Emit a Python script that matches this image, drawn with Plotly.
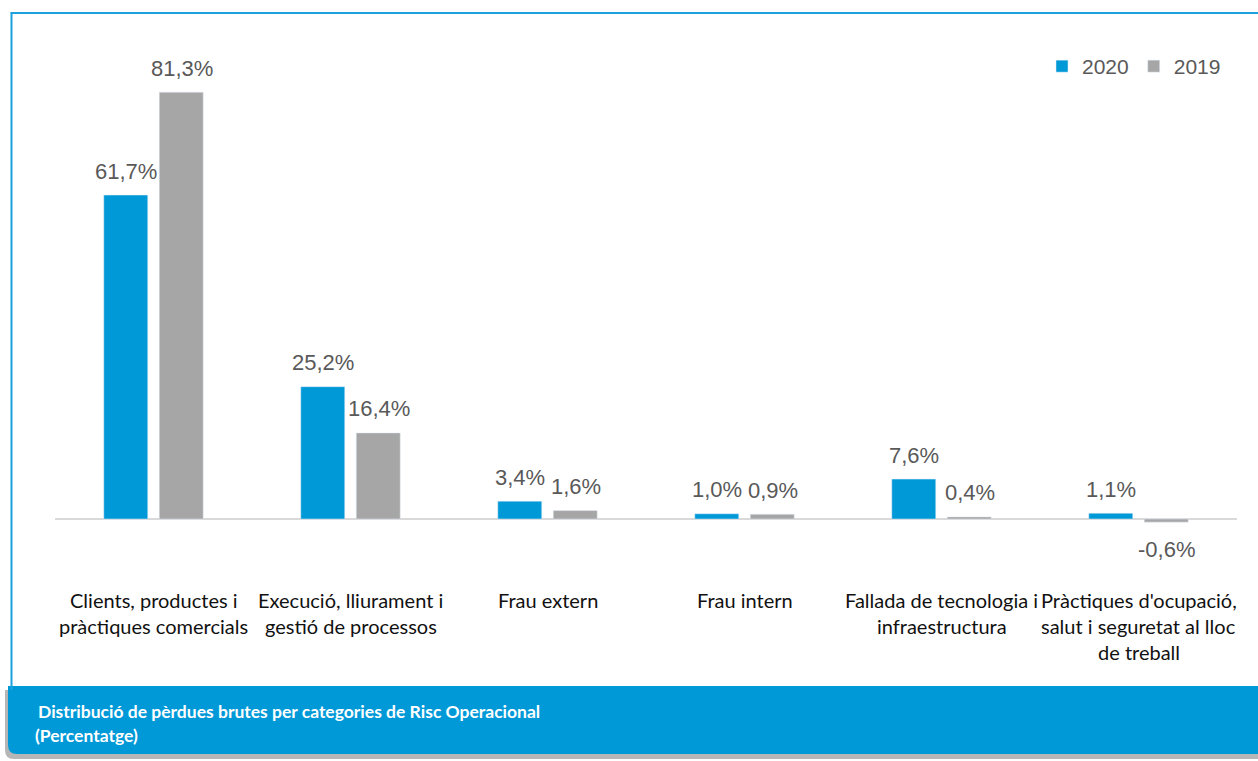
import plotly.graph_objects as go

categories = [
    "Clients, productes i|pràctiques comercials",
    "Execució, lliurament i|gestió de processos",
    "Frau extern",
    "Frau intern",
    "Fallada de tecnologia i|infraestructura",
    "Pràctiques d'ocupació,|salut i seguretat al lloc|de treball",
]
values_2020 = [61.7, 25.2, 3.4, 1.0, 7.6, 1.1]
values_2019 = [81.3, 16.4, 1.6, 0.9, 0.4, -0.6]
series_names = ["2020", "2019"]
title_lines = ["Distribució de pèrdues brutes per categories de Risc Operacional", "(Percentatge)"]

BLUE = "#0099D8"
GREY = "#A6A6A6"
TXT = "#595959"

W, H = 1258, 761
ML, MR, MT, MB = 55, 21, 57, 205
PW, PH = W - ML - MR, H - MT - MB


def px(x):
    return (x - ML) / PW


def py(y):
    return (H - MB - y) / PH


idx = list(range(len(categories)))

fig = go.Figure()
fig.add_trace(go.Bar(x=idx, y=values_2020, name=series_names[0], marker_color=BLUE, hoverinfo="y"))
fig.add_trace(go.Bar(x=idx, y=values_2019, name=series_names[1], marker_color=GREY, hoverinfo="y"))

annotations = []
for vals, shift in ((values_2020, -28), (values_2019, 28)):
    for i, v in zip(idx, vals):
        label = f"{v:.1f}".replace(".", ",") + "%"
        annotations.append(dict(
            x=i, y=v, xref="x", yref="y", xshift=shift,
            yshift=24 if v >= 0 else -27, yanchor="middle",
            text=label, showarrow=False,
            font=dict(family="Liberation Sans, Arial", size=22, color=TXT),
        ))

# category labels (one annotation per line for Excel-like spacing)
for i, cat in zip(idx, categories):
    for k, line in enumerate(cat.split("|")):
        annotations.append(dict(
            x=i, y=py(600 + 26 * k), xref="x", yref="paper", yanchor="middle",
            text=line, showarrow=False,
            font=dict(family="Lato", size=20, color="#111111"),
        ))

# banner title
for k, (line, x0) in enumerate(zip(title_lines, (36, 33))):
    annotations.append(dict(
        x=px(x0), y=py(711 + 24 * k), xref="paper", yref="paper",
        xanchor="left", yanchor="middle",
        text=f"<b>{line}</b>", showarrow=False,
        font=dict(family="Lato", size=17.5, color="white"),
    ))

shapes = []
# frame lines
shapes.append(dict(type="line", xref="paper", yref="paper", x0=px(11.5), x1=px(11.5), y0=py(13), y1=py(690),
                   line=dict(color="#1BA1DB", width=2)))
shapes.append(dict(type="line", xref="paper", yref="paper", x0=px(10.5), x1=px(W + 2), y0=py(13), y1=py(13),
                   line=dict(color="#1BA1DB", width=2)))


def rounded(x0, y0, x1, y1, r):
    return (f"M {px(x0)},{py(y0)} L {px(x1)},{py(y0)} L {px(x1)},{py(y1)} "
            f"L {px(x0 + r)},{py(y1)} Q {px(x0)},{py(y1)} {px(x0)},{py(y1 - r)} Z")


shapes.append(dict(type="path", xref="paper", yref="paper", path=rounded(5, 690, W + 2, 759, 9),
                   fillcolor="rgba(110,110,110,0.5)", line=dict(width=0), layer="below"))
shapes.append(dict(type="path", xref="paper", yref="paper", path=rounded(8, 686, W + 2, 754, 9),
                   fillcolor=BLUE, line=dict(width=0), layer="below"))

fig.update_layout(
    width=W, height=H,
    margin=dict(l=ML, r=MR, t=MT, b=MB),
    paper_bgcolor="white", plot_bgcolor="white",
    barmode="group", bargap=0.437, bargroupgap=0.207,
    xaxis=dict(range=[-0.5, 5.5], showticklabels=False, showgrid=False, zeroline=False,
               showline=False, ticks="", fixedrange=True),
    yaxis=dict(range=[-7.05, 88.0], showticklabels=False, showgrid=False, zeroline=True,
               zerolinecolor="#D9D9D9", zerolinewidth=2, showline=False, ticks="", fixedrange=True),
    legend=dict(orientation="h", x=px(1226), xanchor="right", y=py(46), yanchor="top",
                font=dict(family="Liberation Sans, Arial", size=21, color=TXT),
                itemwidth=30, tracegroupgap=0, bgcolor="rgba(0,0,0,0)"),
    annotations=annotations,
    shapes=shapes,
    showlegend=True,
)

fig.write_html("out.html")
